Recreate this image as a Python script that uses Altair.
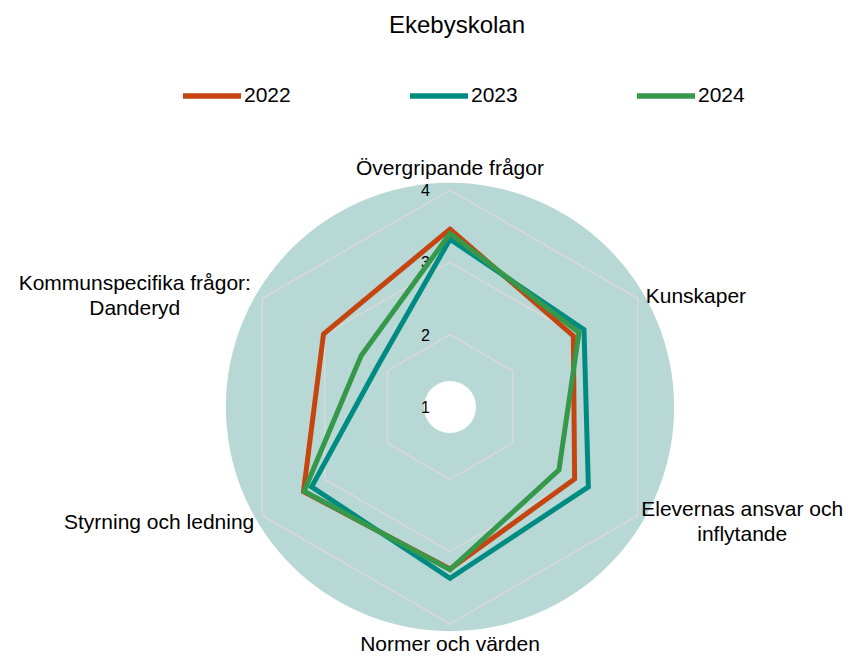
import math
import altair as alt
import pandas as pd

# ---------------- data ----------------
categories = [
    "Övergripande frågor",
    "Kunskaper",
    "Elevernas ansvar och\ninflytande",
    "Normer och värden",
    "Styrning och ledning",
    "Kommunspecifika frågor:\nDanderyd",
]
years = ["2022", "2023", "2024"]
values_2022 = [3.46, 2.97, 2.99, 3.24, 3.34, 3.02]
values_2023 = [3.32, 3.14, 3.21, 3.37, 3.21, 2.15]
values_2024 = [3.40, 3.06, 2.74, 3.25, 3.33, 2.42]
grid_levels = [2, 3, 4]
tick_labels = ["1", "2", "3", "4"]
colors = ["#C5440F", "#008B82", "#35984A"]

# ---------------- layout ----------------
FONT = "Liberation Sans, Arial, sans-serif"
AXIS_MIN = 1.0
PX = 72.3            # pixels per value unit
W, H = 560, 480
DISK_OUTER = 4.1     # value level of outer edge of background disk
DISK_INNER = 1.36    # value level of the white hole
N = len(categories)


def polar(i, v):
    a = 2 * math.pi * i / N
    r = v - AXIS_MIN
    return r * math.sin(a), r * math.cos(a)


series_values = {"2022": values_2022, "2023": values_2023, "2024": values_2024}
rows = []
for yr in years:
    vals = series_values[yr]
    for k in range(N + 1):
        i = k % N
        x, y = polar(i, vals[i])
        rows.append({"year": yr, "k": k, "x": x, "y": y, "cat": categories[i].replace("\n", " "), "value": vals[i]})
series_df = pd.DataFrame(rows)

grid_rows = []
for lvl in grid_levels:
    for k in range(N + 1):
        x, y = polar(k % N, lvl)
        grid_rows.append({"level": lvl, "k": k, "x": x, "y": y})
grid_df = pd.DataFrame(grid_rows)

tick_df = pd.DataFrame({
    "label": tick_labels,
    "x": [0.0] * len(tick_labels),
    "y": [float(t) - AXIS_MIN for t in tick_labels],
})

disk_df = pd.DataFrame({"outer": [DISK_OUTER - AXIS_MIN], "inner": [DISK_INNER - AXIS_MIN], "one": [1]})

xs = alt.Scale(domain=[-W / 2 / PX, W / 2 / PX], nice=False, zero=False)
ys = alt.Scale(domain=[-H / 2 / PX, H / 2 / PX], nice=False, zero=False)
X = lambda f="x": alt.X(f"{f}:Q", scale=xs, axis=None)
Y = lambda f="y": alt.Y(f"{f}:Q", scale=ys, axis=None)

disk = alt.Chart(disk_df).mark_arc(color="#B8D8D5").encode(
    theta=alt.Theta("one:Q"),
    radius=alt.Radius("outer:Q", scale=alt.Scale(type="linear", domain=[0, W / 2 / PX], range=[0, W / 2], zero=True, nice=False)),
    radius2=alt.Radius2("inner:Q"),
)

grid = alt.Chart(grid_df).mark_line(color="#D9D9D9", strokeWidth=1.5).encode(
    x=X(), y=Y(), detail="level:N", order="k:Q"
)

ticks = alt.Chart(tick_df).mark_text(
    align="right", baseline="middle", dx=-20, dy=1, fontSize=16, font=FONT, color="#000000"
).encode(x=X(), y=Y(), text="label:N")

series = alt.Chart(series_df).mark_line(strokeWidth=5, strokeJoin="miter", strokeCap="round").encode(
    x=X(), y=Y(),
    color=alt.Color(
        "year:N",
        scale=alt.Scale(domain=years, range=colors),
        legend=alt.Legend(
            title=None, orient="none", legendX=10, legendY=-103, direction="horizontal",
            symbolType="stroke", symbolSize=3364, symbolStrokeWidth=5.5,
            labelFontSize=21, labelFont=FONT, labelColor="#000000", labelOffset=0,
            columnPadding=108,
        ),
    ),
    order=alt.Order("k:Q"),
    tooltip=["year:N", "cat:N", "value:Q"],
)

label_layout = [
    # align, dx, dy, radius in px
    ("center", 0, 1, 239),
    ("left", 0, 3, 226),
    ("center", 96.5, -10, 226),
    ("center", 0, -2, 240),
    ("right", 0, 3, 226),
    ("center", -119.5, -10, 226),
]
label_layers = []
for i, (cat, (align, dx, dy, rpx)) in enumerate(zip(categories, label_layout)):
    a = 2 * math.pi * i / N
    r = rpx / PX
    ldf = pd.DataFrame({"label": [cat], "x": [r * math.sin(a)], "y": [r * math.cos(a)]})
    label_layers.append(
        alt.Chart(ldf).mark_text(
            align=align, baseline="middle", dx=dx, dy=dy, fontSize=21, font=FONT,
            color="#000000", lineBreak="\n", lineHeight=25,
        ).encode(x=X(), y=Y(), text="label:N")
    )

chart = alt.layer(disk, grid, ticks, series, *label_layers).properties(
    width=W,
    height=H,
    padding={"left": 162, "top": 159, "right": 115, "bottom": 10},
    autosize=alt.AutoSizeParams(type="none"),
    title=alt.TitleParams(
        "Ekebyskolan", fontSize=24, font=FONT, fontWeight="normal", color="#000000",
        anchor="middle", dx=7, offset=26,
    ),
).configure_view(stroke=None)

chart.save("out.html", embed_options={"renderer": "svg", "actions": False})
